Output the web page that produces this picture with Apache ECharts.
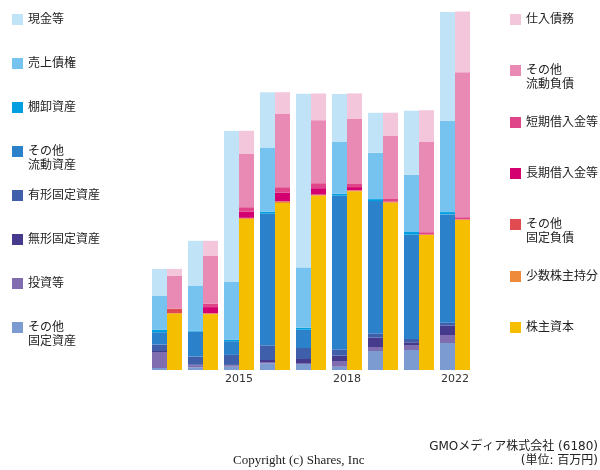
<!DOCTYPE html>
<html><head><meta charset="utf-8">
<script src="https://cdn.jsdelivr.net/npm/echarts@6/dist/echarts.min.js"></script>
<style>html,body{margin:0;padding:0;background:#fff}#c{width:600px;height:470px}</style>
</head><body><div id="c"></div>
<script>
// Tick labels (only every third category is labelled in the reference)
var tickLabels = ['', '', '2015', '', '', '2018', '', '', '2022'];

// Assets (百万円)
var cash        = [540, 894, 3014, 1106, 3474, 960, 800, 1280, 2180];
var receivables = [680, 900, 1166, 1280, 1206, 1034, 926, 1146, 1820];
var inventory   = [46, 20, 26, 40, 40, 40, 40, 54, 46];
var otherCurA   = [246, 500, 274, 2634, 366, 3074, 2646, 2086, 2166];
var tangible    = [130, 166, 200, 294, 220, 126, 86, 66, 60];
var intangible  = [20, 10, 10, 40, 80, 106, 186, 54, 186];
var investments = [320, 40, 26, 26, 20, 114, 80, 100, 160];
var otherFixA   = [40, 54, 66, 134, 120, 66, 380, 400, 540];

// Liabilities & equity
var payables    = [140, 294, 454, 426, 534, 500, 466, 626, 1214];
var otherCurL   = [654, 966, 1074, 1474, 1260, 1300, 1260, 1814, 2900];
var shortDebt   = [0, 66, 86, 106, 100, 74, 46, 40, 40];
var longDebt    = [0, 120, 126, 174, 126, 60, 0, 0, 0];
var otherFixL   = [94, 10, 10, 10, 10, 10, 14, 10, 10];
var minority    = [0, 10, 14, 26, 14, 14, 14, 6, 0];
var equity      = [1134, 1118, 3020, 3340, 3486, 3574, 3346, 2700, 3006];

var FONT = '"DejaVu Sans","Noto Sans CJK JP",sans-serif';

var assetSeries = [
  ['その他固定資産', otherFixA, '#7b9bd1', 'その他\n固定資産'],
  ['投資等', investments, '#7f6db0', '投資等'],
  ['無形固定資産', intangible, '#463a8c', '無形固定資産'],
  ['有形固定資産', tangible, '#3f5fab', '有形固定資産'],
  ['その他流動資産', otherCurA, '#2b82cb', 'その他\n流動資産'],
  ['棚卸資産', inventory, '#00a0e0', '棚卸資産'],
  ['売上債権', receivables, '#76c3f0', '売上債権'],
  ['現金等', cash, '#c0e3f7', '現金等']
];
var liabSeries = [
  ['株主資本', equity, '#f5be00', '株主資本'],
  ['少数株主持分', minority, '#ee8a3a', '少数株主持分'],
  ['その他固定負債', otherFixL, '#e04b51', 'その他\n固定負債'],
  ['長期借入金等', longDebt, '#d5006f', '長期借入金等'],
  ['短期借入金等', shortDebt, '#e0458a', '短期借入金等'],
  ['その他流動負債', otherCurL, '#e88ab4', 'その他\n流動負債'],
  ['仕入債務', payables, '#f4c6dc', '仕入債務']
];

var series = [];
assetSeries.forEach(function (s) {
  series.push({name: s[0], type: 'bar', stack: 'assets', data: s[1], barWidth: 15, barGap: '0%',
    itemStyle: {color: s[2]}, emphasis: {disabled: true}});
});
liabSeries.forEach(function (s) {
  series.push({name: s[0], type: 'bar', stack: 'liab', data: s[1], barWidth: 15, barGap: '0%',
    itemStyle: {color: s[2]}, emphasis: {disabled: true}});
});

var legends = [];
function addLegend(s, left, iconTop) {
  var two = s[3].indexOf('\n') >= 0;
  legends.push({
    data: [s[0]], left: left, top: two ? iconTop - 14.5 : iconTop, orient: 'vertical',
    padding: 0, itemWidth: 11, itemHeight: 11, itemGap: 0, selectedMode: false,
    icon: 'rect',
    formatter: function () { return two ? ' \n' + s[3] : s[3]; },
    textStyle: {fontSize: 12, lineHeight: two ? 14 : 13, color: '#222', fontFamily: FONT}
  });
}
var leftOrder = assetSeries.slice().reverse();
leftOrder.forEach(function (s, i) { addLegend(s, 12, 13 + i * 44); });
var rightOrder = liabSeries.slice().reverse();
rightOrder.forEach(function (s, i) { addLegend(s, 510, Math.round(13 + i * 51.3)); });

var chart = echarts.init(document.getElementById('c'), null, {renderer: 'canvas'});
chart.setOption({
  animation: false,
  backgroundColor: '#fff',
  grid: {left: 149, right: 127, top: 10, bottom: 100},
  xAxis: {type: 'category', data: tickLabels,
    axisLine: {show: false}, axisTick: {show: false},
    axisLabel: {interval: 0, margin: 4, fontSize: 11, color: '#333', fontFamily: '"DejaVu Sans",sans-serif'}},
  yAxis: {type: 'value', min: 0, max: 7200, show: false, splitLine: {show: false}},
  legend: legends,
  series: series,
  graphic: [
    {type: 'text', right: 2, top: 441, style: {text: 'GMOメディア株式会社 (6180)', fontSize: 12, fill: '#222', fontFamily: FONT}},
    {type: 'text', right: 2, top: 455, style: {text: '(単位: 百万円)', fontSize: 12, fill: '#222', fontFamily: FONT}},
    {type: 'text', left: 233, top: 454, style: {text: 'Copyright (c) Shares, Inc', fontSize: 13, fill: '#222', fontFamily: '"Liberation Serif","DejaVu Serif",serif'}}
  ]
});
</script></body></html>
